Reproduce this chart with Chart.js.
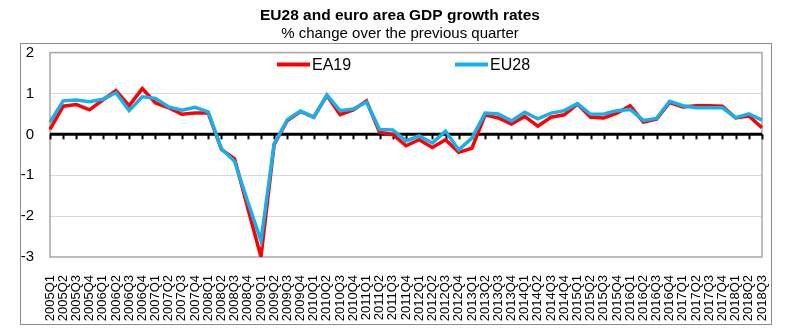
<!DOCTYPE html>
<html>
<head>
<meta charset="utf-8">
<title>EU28 and euro area GDP growth rates</title>
<script src="https://cdn.jsdelivr.net/npm/chart.js"></script>
<style>
  html, body { margin: 0; padding: 0; background: #fff; }
  #wrap { position: relative; width: 800px; height: 333px; }
  #frame { position: absolute; left: 20px; top: 43px; width: 752px; height: 282px;
           border: 1.5px solid #8c8c8c; box-sizing: border-box; pointer-events: none; }
</style>
</head>
<body>
<div id="wrap">
  <canvas id="gdpChart" width="800" height="333"></canvas>
  <div id="frame"></div>
</div>
<script>
const quarters = [
  '2005Q1','2005Q2','2005Q3','2005Q4','2006Q1','2006Q2','2006Q3','2006Q4',
  '2007Q1','2007Q2','2007Q3','2007Q4','2008Q1','2008Q2','2008Q3','2008Q4',
  '2009Q1','2009Q2','2009Q3','2009Q4','2010Q1','2010Q2','2010Q3','2010Q4',
  '2011Q1','2011Q2','2011Q3','2011Q4','2012Q1','2012Q2','2012Q3','2012Q4',
  '2013Q1','2013Q2','2013Q3','2013Q4','2014Q1','2014Q2','2014Q3','2014Q4',
  '2015Q1','2015Q2','2015Q3','2015Q4','2016Q1','2016Q2','2016Q3','2016Q4',
  '2017Q1','2017Q2','2017Q3','2017Q4','2018Q1','2018Q2','2018Q3'
];

// % change over the previous quarter
const ea19 = [
  0.12, 0.69, 0.73, 0.60, 0.84, 1.07, 0.70, 1.12, 0.77, 0.65, 0.49, 0.52, 0.52, -0.37,
  -0.60, -1.80, -3.00, -0.25, 0.34, 0.56, 0.42, 0.95, 0.48, 0.60, 0.82, 0.05, 0.00,
  -0.28, -0.13, -0.32, -0.13, -0.44, -0.34, 0.48, 0.40, 0.25, 0.44, 0.20, 0.42, 0.48,
  0.74, 0.42, 0.40, 0.52, 0.70, 0.30, 0.37, 0.78, 0.67, 0.70, 0.70, 0.69, 0.40, 0.45, 0.16
];
const eu28 = [
  0.30, 0.82, 0.84, 0.80, 0.86, 1.02, 0.58, 0.92, 0.88, 0.67, 0.59, 0.66, 0.55, -0.35,
  -0.66, -1.65, -2.60, -0.23, 0.36, 0.57, 0.42, 0.96, 0.58, 0.62, 0.79, 0.12, 0.11,
  -0.16, -0.04, -0.21, 0.08, -0.38, -0.09, 0.52, 0.50, 0.33, 0.54, 0.38, 0.52, 0.58,
  0.75, 0.49, 0.50, 0.58, 0.61, 0.34, 0.39, 0.81, 0.70, 0.65, 0.65, 0.65, 0.41, 0.50, 0.35
];

const yTicks = [2, 1, 0, -1, -2, -3];

const RED = '#ff0000';
const BLUE = '#14b1ec';
const FONT = "'Liberation Sans', Arial, sans-serif";

// frame round the plot, little tick marks under the zero line, legend inside the plot
const plotExtras = {
  id: 'plotExtras',
  beforeDatasetsDraw(chart) {
    const { ctx, chartArea: a, scales: { x, y } } = chart;
    ctx.save();
    ctx.strokeStyle = '#a6a6a6';
    ctx.lineWidth = 1.5;
    ctx.strokeRect(a.left, a.top, a.right - a.left, a.bottom - a.top);
    const y0 = y.getPixelForValue(0);
    ctx.strokeStyle = '#000';
    ctx.lineWidth = 2;
    quarters.forEach((q, i) => {
      const px = Math.round(x.getPixelForValue(i)) + 0.5;
      ctx.beginPath();
      ctx.moveTo(px, y0);
      ctx.lineTo(px, y0 + 5);
      ctx.stroke();
    });
    ctx.lineWidth = 3;
    ctx.beginPath();
    ctx.moveTo(a.left, y0);
    ctx.lineTo(a.right, y0);
    ctx.stroke();
    ctx.restore();
  },
  afterDraw(chart) {
    const { ctx, chartArea: a } = chart;
    const ly = a.top + 12;
    const items = [
      { label: 'EA19', color: RED, x: a.left + 227 },
      { label: 'EU28', color: BLUE, x: a.left + 405 }
    ];
    ctx.save();
    ctx.font = '16px ' + FONT;
    ctx.textBaseline = 'middle';
    items.forEach(it => {
      ctx.strokeStyle = it.color;
      ctx.lineWidth = 4;
      ctx.beginPath();
      ctx.moveTo(it.x, ly);
      ctx.lineTo(it.x + 33, ly);
      ctx.stroke();
      ctx.fillStyle = '#000';
      ctx.fillText(it.label, it.x + 35, ly + 1);
    });
    ctx.restore();
  }
};

new Chart(document.getElementById('gdpChart'), {
  type: 'line',
  data: {
    labels: quarters,
    datasets: [
      { label: 'EA19', data: ea19, borderColor: RED, backgroundColor: RED,
        borderWidth: 3.5, pointRadius: 0, tension: 0, order: 1 },
      { label: 'EU28', data: eu28, borderColor: BLUE, backgroundColor: BLUE,
        borderWidth: 3.5, pointRadius: 0, tension: 0, order: 0 }
    ]
  },
  options: {
    responsive: false,
    devicePixelRatio: 1,
    animation: false,
    layout: { padding: { left: 0, right: 0, top: 0, bottom: 4 } },
    plugins: {
      legend: { display: false },
      tooltip: { enabled: false },
      title: {
        display: true,
        text: 'EU28 and euro area GDP growth rates',
        color: '#000',
        font: { family: FONT, size: 15.5, weight: 'bold' },
        padding: { top: 6, bottom: 0 }
      },
      subtitle: {
        display: true,
        text: '% change over the previous quarter',
        color: '#000',
        font: { family: FONT, size: 15 },
        padding: { top: 0, bottom: 10 }
      }
    },
    scales: {
      x: {
        offset: false,
        grid: { display: false },
        border: { display: false },
        ticks: {
          autoSkip: false, minRotation: 90, maxRotation: 90,
          color: '#000', padding: 10,
          font: { family: FONT, size: 13 }
        },
        afterFit(s) { s.height = 72; }
      },
      y: {
        min: -3, max: 2,
        afterBuildTicks(s) { s.ticks = yTicks.map(v => ({ value: v })); },
        grid: {
          drawTicks: false,
          color: c => (c.tick && (c.tick.value === 2 || c.tick.value === -3)) ? 'rgba(0,0,0,0)' : '#d9d9d9',
          lineWidth: 1
        },
        border: { display: false },
        ticks: { color: '#000', padding: 16, font: { family: FONT, size: 15 } },
        afterFit(s) { s.width = 50; }
      },
      // empty right-hand margin, so the titles stay centred on the page
      yRight: {
        position: 'right',
        display: true,
        grid: { display: false },
        border: { display: false },
        ticks: { display: false },
        afterFit(s) { s.width = 38; }
      }
    }
  },
  plugins: [plotExtras]
});
</script>
</body>
</html>
